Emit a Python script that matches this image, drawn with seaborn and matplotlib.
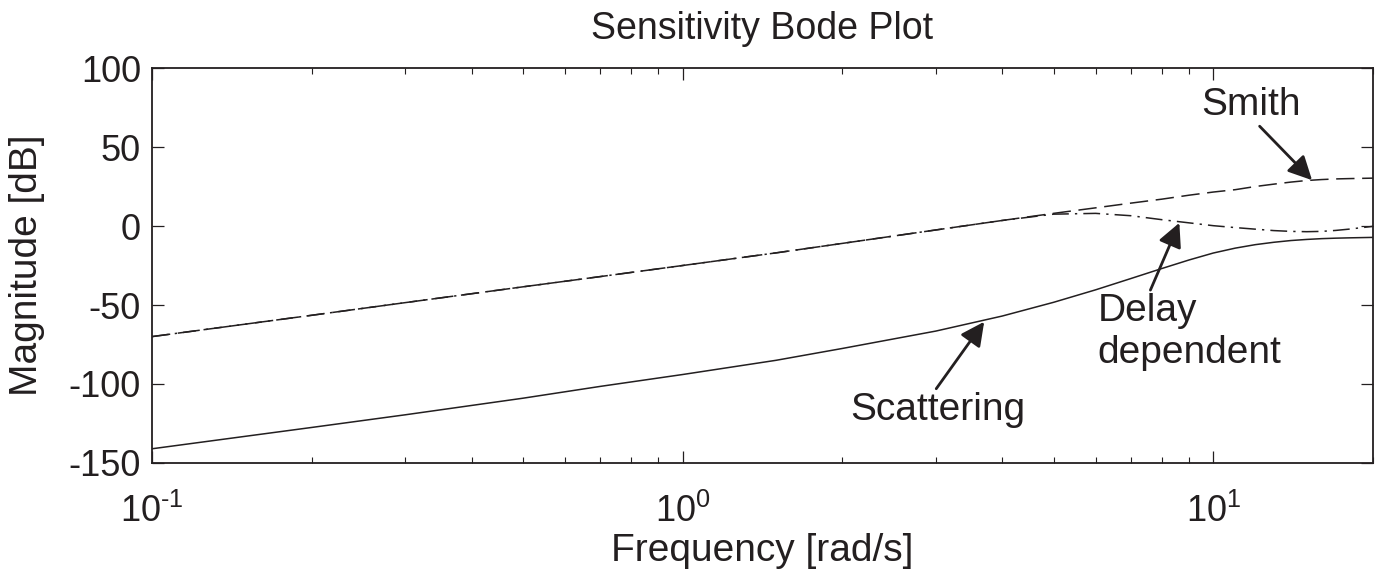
import numpy as np
import pandas as pd
import seaborn as sns
import matplotlib
matplotlib.use('Agg')
import matplotlib.pyplot as plt
from matplotlib.ticker import FuncFormatter

freq = [0.1, 0.2, 0.3, 0.5, 0.7, 1.0, 1.5, 2.0, 3.0, 4.0, 5.0, 6.0, 7.0, 8.0,
        9.0, 10.0, 11.0, 12.0, 13.0, 14.0, 15.0, 16.0, 17.0, 18.0, 20.0]

# magnitudes [dB]
smith = [-70, -56.5, -48.5, -38.5, -32, -25, -17, -11, -2.5, 3.5, 8, 11.5, 14.5, 17,
         19.5, 21.5, 23, 25, 26.5, 27.8, 28.8, 29.4, 29.8, 30.0, 30.3]
delay = [-70, -56.5, -48.5, -38.5, -32, -25, -17, -11, -2.5, 3.5, 7.5, 8, 6.5, 4,
         2, 0.2, -1, -2, -2.9, -3.4, -3.6, -3.4, -2.8, -2, -0.2]
scattering = [-141, -127.5, -119.5, -109, -101.5, -94, -85, -77.5, -66.5, -57, -48.3, -40.4,
              -33.2, -26.9, -21.5, -17.1, -14.0, -11.8, -10.3, -9.2, -8.5, -8.0, -7.7, -7.5, -7.2]

curves = ['Scattering', 'Smith', 'Delay dependent']
y_ticks = [-150, -100, -50, 0, 50, 100]

df = pd.DataFrame({
    'freq': freq * 3,
    'mag': scattering + smith + delay,
    'curve': [c for c in curves for _ in freq],
})

sns.set_style('ticks')
plt.rcParams['font.family'] = ['Liberation Sans', 'DejaVu Sans']
plt.rcParams['mathtext.fontset'] = 'custom'
plt.rcParams['mathtext.rm'] = 'Liberation Sans'
plt.rcParams['mathtext.it'] = 'Liberation Sans'
plt.rcParams['axes.unicode_minus'] = False

ink = '#231f20'

fig = plt.figure(figsize=(13.91, 5.74), dpi=100)
ax = fig.add_axes([0.1093, 0.1934, 0.8778, 0.6881])

sns.lineplot(data=df, x='freq', y='mag', style='curve', style_order=curves,
             dashes={'Scattering': '', 'Smith': (12, 5), 'Delay dependent': (11, 4, 1.5, 4)},
             color=ink, linewidth=1.1, estimator=None, sort=False, legend=False, ax=ax)

ax.set_xscale('log')
ax.set_xlim(0.1, 20)
ax.set_ylim(-150, 100)
ax.set_yticks(y_ticks)


def decade_label(v, pos):
    e = int(round(np.log10(v)))
    return r'$\mathdefault{10^{\text{%d}}}$' % e


ax.xaxis.set_major_formatter(FuncFormatter(decade_label))

for s in ax.spines.values():
    s.set_linewidth(1.3)
    s.set_color(ink)
ax.tick_params(which='both', direction='in', top=True, right=True, colors=ink)
ax.tick_params(which='major', length=8.6, width=0.9, labelsize=26, pad=8)
ax.tick_params(which='minor', length=4.3, width=0.8)
ax.tick_params(axis='x', which='major', pad=22)

ax.set_title('Sensitivity Bode Plot', fontsize=27, pad=21, color=ink)
ax.set_xlabel('Frequency [rad/s]', fontsize=28, labelpad=2, color=ink)
ax.set_ylabel('Magnitude [dB]', fontsize=28, labelpad=17, color=ink)

arrow = dict(arrowstyle='-|>', color=ink, lw=2.0, mutation_scale=36, shrinkA=0, shrinkB=0)

ax.annotate('Smith', xy=(15.35, 29), xytext=(11.8, 70.3), fontsize=28, color=ink,
            ha='center', va='baseline', arrowprops=dict(arrow, relpos=(0.55, 0.0)))
ax.annotate('Delay\ndependent', xy=(8.63, 2), xytext=(6.05, -86.7), fontsize=28, color=ink,
            ha='left', va='baseline', multialignment='left',
            arrowprops=dict(arrow, relpos=(0.28, 1.0)))
ax.annotate('Scattering', xy=(3.7, -60.6), xytext=(3.02, -122.8), fontsize=28, color=ink,
            ha='center', va='baseline', arrowprops=dict(arrow, relpos=(0.48, 1.0)))

fig.savefig('out.png', dpi=100)
